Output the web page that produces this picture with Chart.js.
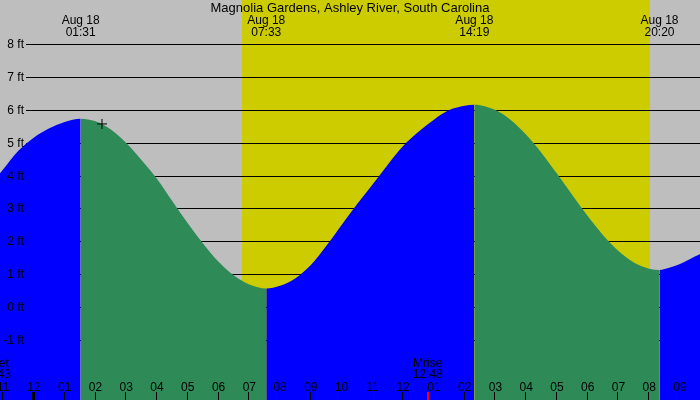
<!DOCTYPE html>
<html>
<head>
<meta charset="utf-8">
<script src="https://cdn.jsdelivr.net/npm/chart.js@4/dist/chart.umd.min.js"></script>
<style>
html,body{margin:0;padding:0;background:#bebebe;overflow:hidden;}
canvas{display:block;}
</style>
</head>
<body>
<canvas id="c" width="700" height="400"></canvas>
<script>
// ---- data (hours since midnight Aug 18, heights in ft) ----
const chartTitle = 'Magnolia Gardens, Ashley River, South Carolina';
const tideHours = [-1.5, -1.0, -0.5, 0.0, 0.5, 1.0, 1.517, 2.0, 2.5, 3.0, 3.5, 4.0, 4.5, 5.0, 5.5, 6.0, 6.5, 7.0, 7.55,
                   8.0, 8.5, 9.0, 9.5, 10.0, 10.5, 11.0, 11.5, 12.0, 12.5, 13.0, 13.5, 14.0, 14.317,
                   14.5, 15.0, 15.5, 16.0, 16.5, 17.0, 17.5, 18.0, 18.5, 19.0, 19.5, 20.0, 20.333,
                   20.5, 21.0, 21.5, 22.0];
const tideFeet  = [3.62, 4.19, 4.76, 5.16, 5.44, 5.63, 5.73, 5.65, 5.40, 4.99, 4.47, 3.90, 3.22, 2.55, 1.93, 1.38, 0.96, 0.69, 0.57,
                   0.65, 0.88, 1.28, 1.86, 2.50, 3.13, 3.72, 4.33, 4.90, 5.33, 5.70, 5.99, 6.12, 6.15,
                   6.14, 5.99, 5.69, 5.24, 4.69, 4.06, 3.41, 2.77, 2.19, 1.71, 1.36, 1.17, 1.13,
                   1.16, 1.31, 1.55, 1.78];
const extremeDates = ['Aug 18', 'Aug 18', 'Aug 18', 'Aug 18'];
const extremeTimes = ['01:31', '07:33', '14:19', '20:20'];
const hourTickLabels = ['11','12','01','02','03','04','05','06','07','08','09','10','11','12','01','02','03','04','05','06','07','08','09','10'];
const hourTickStart = -1;          // first label is 23:00 of Aug 17
const midnightHour = 0;
const yTickValues = [-1, 0, 1, 2, 3, 4, 5, 6, 7, 8];
const sunriseHour = 6.76;
const sunsetHour = 20.03;
const moonLabels = ['Mset', 'Mrise'];
const moonTimes = ['22:43', '12:48'];
const moonHours = [-1.24, 12.8];
const nowHour = [2.21];
const nowFeet = [5.57];
const xRange = [-1.105, 21.651];
const yRange = [-2.821, 9.337];

const BLUE = '#0000ff', GREEN = '#2e8b57', GRAY = '#bebebe', YELLOW = '#cccc00';
const FONT = '12px "Liberation Sans", Arial, sans-serif';
const TFONT = '13px "Liberation Sans", Arial, sans-serif';

function hm(s){ const [h,m] = s.split(':').map(Number); return h + m/60; }

const tidePoints = tideHours.map((h,i)=>({x:h, y:tideFeet[i]}));
const nowPoints = nowHour.map((h,i)=>({x:h, y:nowFeet[i]}));

const decor = {
  id: 'decor',
  beforeDraw(chart){
    const ctx = chart.ctx, xs = chart.scales.x;
    ctx.save();
    ctx.fillStyle = GRAY;
    ctx.fillRect(0,0,chart.width,chart.height);
    const x0 = Math.round(xs.getPixelForValue(sunriseHour));
    const x1 = Math.round(xs.getPixelForValue(sunsetHour));
    ctx.fillStyle = YELLOW;
    ctx.fillRect(x0,0,x1-x0,chart.height);
    ctx.restore();
  },
  beforeDatasetsDraw(chart){
    const ctx = chart.ctx, ys = chart.scales.y;
    ctx.save();
    ctx.strokeStyle = '#000';
    ctx.lineWidth = 1;
    yTickValues.forEach(v=>{
      const y = Math.round(ys.getPixelForValue(v)) + 0.5;
      ctx.beginPath(); ctx.moveTo(26,y); ctx.lineTo(chart.width,y); ctx.stroke();
    });
    ctx.restore();
  },
  afterDatasetsDraw(chart){
    const ctx = chart.ctx, xs = chart.scales.x, ys = chart.scales.y;
    ctx.save();
    ctx.fillStyle = '#000';
    // title
    ctx.font = TFONT; ctx.textAlign = 'center'; ctx.textBaseline = 'alphabetic';
    ctx.fillText(chartTitle, chart.width/2, 12);
    // extreme labels
    ctx.font = FONT;
    extremeTimes.forEach((t,i)=>{
      const x = xs.getPixelForValue(hm(t));
      ctx.fillText(extremeDates[i], x, 24);
      ctx.fillText(t, x, 36);
    });
    // y labels
    ctx.textAlign = 'right';
    yTickValues.forEach(v=>{
      const y = Math.round(ys.getPixelForValue(v));
      ctx.fillText(v + ' ft', 24, y + 4);
    });
    // hour labels and ticks
    ctx.textAlign = 'center';
    hourTickLabels.forEach((lab,i)=>{
      const h = hourTickStart + i;
      const x = xs.getPixelForValue(h);
      ctx.fillStyle = '#000';
      ctx.fillText(lab, x, 391);
      const xr = Math.round(x);
      if (h === midnightHour) ctx.fillRect(xr-2, 392, 3, 8);
      else ctx.fillRect(xr-1, 392, 1, 8);
    });
    // moon events
    moonLabels.forEach((lab,i)=>{
      const x = xs.getPixelForValue(moonHours[i]);
      ctx.fillStyle = '#000';
      ctx.fillText(lab, x, 367);
      ctx.fillText(moonTimes[i], x, 378);
      ctx.fillStyle = '#ff0000';
      ctx.fillRect(Math.round(x)-1, 392, 2, 8);
    });
    ctx.restore();
  }
};

new Chart(document.getElementById('c'), {
  type: 'line',
  data: {
    datasets: [
      {
        type: 'scatter',
        data: nowPoints,
        pointStyle: 'cross',
        pointRadius: 5,
        borderColor: '#000',
        backgroundColor: '#000',
        borderWidth: 1,
        showLine: false,
        clip: false
      },
      {
        data: tidePoints,
        fill: 'start',
        backgroundColor: BLUE,
        borderColor: 'rgba(0,0,0,0)',
        borderWidth: 0,
        pointRadius: 0,
        cubicInterpolationMode: 'monotone',
        segment: {
          backgroundColor: c => (c.p1.parsed.y >= c.p0.parsed.y ? BLUE : GREEN)
        }
      }
    ]
  },
  options: {
    responsive: false,
    devicePixelRatio: 1,
    animation: false,
    events: [],
    layout: { padding: 0, autoPadding: false },
    plugins: { legend: { display: false }, tooltip: { enabled: false }, title: { display: false } },
    scales: {
      x: { type: 'linear', display: false, min: xRange[0], max: xRange[1] },
      y: { type: 'linear', display: false, min: yRange[0], max: yRange[1] }
    }
  },
  plugins: [decor]
});
</script>
</body>
</html>
